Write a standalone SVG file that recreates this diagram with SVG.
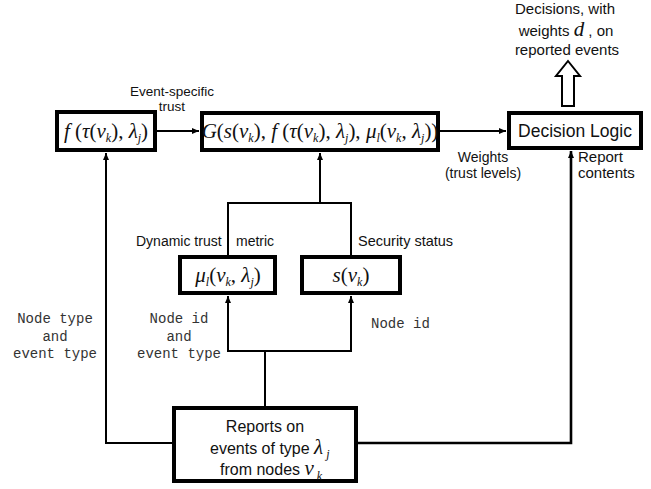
<svg xmlns="http://www.w3.org/2000/svg" width="651" height="489" viewBox="0 0 651 489">
<style>
.box{fill:#fff;stroke:#000;stroke-width:4}
.ln{fill:none;stroke:#000;stroke-width:2}
.lb{font-family:"Liberation Sans",Arial,sans-serif;font-size:13.5px;fill:#111}
.big{font-family:"Liberation Sans",Arial,sans-serif;font-size:16px;fill:#111}
.mono{font-family:"Liberation Mono","Courier New",monospace;font-size:14px;fill:#333}
.m{font-family:"Liberation Serif","Times New Roman",serif;font-size:21px;fill:#111}
.i{font-style:italic}
.sb{font-size:12px;font-style:italic}
</style>
<defs>
<marker id="ah" markerWidth="8" markerHeight="8" refX="7" refY="4" orient="auto" markerUnits="userSpaceOnUse">
<path d="M0,1 L7,4 L0,7 Z" fill="#000"/>
</marker>
</defs>
<g id="connectors">
<line class="ln" x1="157" y1="131" x2="199" y2="131" marker-end="url(#ah)"/>
<line class="ln" x1="440" y1="131" x2="506" y2="131" marker-end="url(#ah)"/>
<polyline class="ln" points="228,255 228,203 351,203 351,255"/>
<line class="ln" x1="320" y1="203" x2="320" y2="153" marker-end="url(#ah)"/>
<line class="ln" x1="265" y1="406" x2="265" y2="351"/>
<polyline class="ln" points="228,296 228,351 351,351 351,296"/>
<line class="ln" x1="228" y1="330" x2="228" y2="296" marker-end="url(#ah)"/>
<line class="ln" x1="351" y1="330" x2="351" y2="296" marker-end="url(#ah)"/>
<polyline class="ln" points="172,443 106,443 106,153" marker-end="url(#ah)"/>
<polyline class="ln" style="stroke-width:2.6" points="358,443 571,443 571,151" marker-end="url(#ah)"/>
<polygon points="568,61 580,76 574,76 574,106 562,106 562,76 556,76" fill="#fff" stroke="#000" stroke-width="2"/>
</g>
<g id="trust-fn">
<rect class="box" x="57" y="112" width="98" height="38"/>
<text class="m" x="106" y="138" text-anchor="middle"><tspan class="i">f</tspan> (<tspan class="i">τ</tspan>(<tspan class="i">v</tspan><tspan class="sb" dy="4">k</tspan><tspan dy="-4">), </tspan><tspan class="i">λ</tspan><tspan class="sb" dy="4">j</tspan><tspan dy="-4">)</tspan></text>
</g>
<g id="combine">
<rect class="box" x="202" y="113" width="236" height="37"/>
<text class="m" x="320" y="138" text-anchor="middle"><tspan class="i">G</tspan>(<tspan class="i">s</tspan>(<tspan class="i">v</tspan><tspan class="sb" dy="4">k</tspan><tspan dy="-4">), </tspan><tspan class="i">f</tspan> (<tspan class="i">τ</tspan>(<tspan class="i">v</tspan><tspan class="sb" dy="4">k</tspan><tspan dy="-4">), </tspan><tspan class="i">λ</tspan><tspan class="sb" dy="4">j</tspan><tspan dy="-4">), </tspan><tspan class="i">μ</tspan><tspan class="sb" dy="4">l</tspan><tspan dy="-4">(</tspan><tspan class="i">v</tspan><tspan class="sb" dy="4">k</tspan><tspan dy="-4">, </tspan><tspan class="i">λ</tspan><tspan class="sb" dy="4">j</tspan><tspan dy="-4">))</tspan></text>
</g>
<g id="decision">
<rect class="box" x="509" y="113" width="132" height="35"/>
<text class="big" x="575" y="137" text-anchor="middle" style="font-size:17.5px">Decision Logic</text>
</g>
<g id="dynamic-trust">
<rect class="box" x="180" y="257" width="95" height="36"/>
<text class="m" x="228" y="282" text-anchor="middle"><tspan class="i">μ</tspan><tspan class="sb" dy="4">l</tspan><tspan dy="-4">(</tspan><tspan class="i">v</tspan><tspan class="sb" dy="4">k</tspan><tspan dy="-4">, </tspan><tspan class="i">λ</tspan><tspan class="sb" dy="4">j</tspan><tspan dy="-4">)</tspan></text>
</g>
<g id="security">
<rect class="box" x="302" y="257" width="98" height="36"/>
<text class="m" x="351" y="282" text-anchor="middle"><tspan class="i">s</tspan>(<tspan class="i">v</tspan><tspan class="sb" dy="4">k</tspan><tspan dy="-4">)</tspan></text>
</g>
<g id="reports">
<rect class="box" x="174" y="408" width="182" height="73"/>
<text class="big" x="265" y="432" text-anchor="middle">Reports on</text>
<text class="big" x="210" y="454">events of type <tspan class="m i" font-size="22">λ</tspan><tspan class="sb" font-family="Liberation Serif,serif" dx="3" dy="4">j</tspan></text>
<text class="big" x="220" y="475">from nodes <tspan class="m i" font-size="22">ν</tspan><tspan class="sb" font-family="Liberation Serif,serif" dx="3" dy="5">k</tspan></text>
</g>
<g id="labels">
<text class="lb" x="172" y="96" text-anchor="middle">Event-specific</text>
<text class="lb" x="172" y="111" text-anchor="middle">trust</text>
<text class="lb" x="483" y="162" text-anchor="middle" style="font-size:14px">Weights</text>
<text class="lb" x="483" y="178" text-anchor="middle" style="font-size:14px">(trust levels)</text>
<text class="lb" x="578" y="162" style="font-size:15px">Report</text>
<text class="lb" x="578" y="178" style="font-size:15px">contents</text>
<text class="lb" x="136" y="246" style="font-size:14px">Dynamic trust</text>
<text class="lb" x="236" y="246" style="font-size:14px">metric</text>
<text class="lb" x="358" y="246" style="font-size:14.5px">Security status</text>
<text class="lb" x="565" y="14" text-anchor="middle" style="font-size:15px">Decisions, with</text>
<text class="lb" x="566" y="36" text-anchor="middle" style="font-size:15px">weights <tspan class="m i" font-size="20">d</tspan> , on</text>
<text class="lb" x="567" y="55" text-anchor="middle" style="font-size:15px">reported events</text>
<text class="mono" x="55" y="323" text-anchor="middle">Node type</text>
<text class="mono" x="55" y="341" text-anchor="middle">and</text>
<text class="mono" x="55" y="358" text-anchor="middle">event type</text>
<text class="mono" x="179" y="323" text-anchor="middle">Node id</text>
<text class="mono" x="179" y="341" text-anchor="middle">and</text>
<text class="mono" x="179" y="358" text-anchor="middle">event type</text>
<text class="mono" x="371" y="328">Node id</text>
</g>
</svg>
